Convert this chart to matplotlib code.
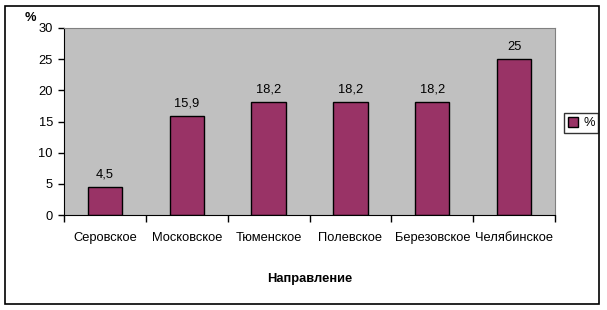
import numpy as np
import matplotlib.pyplot as plt
from matplotlib.patches import Rectangle

plt.rcParams['font.family'] = ['Liberation Sans', 'DejaVu Sans']

categories = ['Серовское', 'Московское', 'Тюменское', 'Полевское', 'Березовское', 'Челябинское']
values = [4.5, 15.9, 18.2, 18.2, 18.2, 25]
labels = ['4,5', '15,9', '18,2', '18,2', '18,2', '25']
yticks = [0, 5, 10, 15, 20, 25, 30]

W, H = 607, 310
fs = 9.3
fig = plt.figure(figsize=(W / 100, H / 100), dpi=100)
fig.patch.set_facecolor('white')

# outer chart border
fig.add_artist(Rectangle((5 / W, 6 / H), 594 / W, 298 / H, transform=fig.transFigure,
                         fill=False, edgecolor='black', linewidth=1.2))

ax = fig.add_axes([64 / W, 1 - 215 / H, (555 - 64) / W, (215 - 28) / H])
ax.set_facecolor('#c0c0c0')
x = np.arange(len(categories))
bars = ax.bar(x, values, width=0.42, color='#993366', edgecolor='black', linewidth=1,
              label='%')
for xi, v, lab in zip(x, values, labels):
    ax.text(xi, v + 1.0, lab, ha='center', va='bottom', fontsize=fs)

ax.set_xlim(-0.5, len(categories) - 0.5)
ax.set_ylim(0, 30)
ax.set_yticks(yticks)
ax.set_yticklabels([str(t) for t in yticks], fontsize=fs)
ax.set_xticks(np.arange(len(categories) + 1) - 0.5)
ax.set_xticklabels([])
ax.set_xticks(x, minor=True)
ax.set_xticklabels(categories, minor=True, fontsize=fs)
ax.tick_params(axis='x', which='minor', length=0, pad=12)
ax.tick_params(axis='x', which='major', direction='out', length=5, width=1)
ax.tick_params(axis='y', direction='out', length=4, width=1, pad=4)
for s in ['top', 'right']:
    ax.spines[s].set_color('#808080')
for s in ['left', 'bottom']:
    ax.spines[s].set_color('black')

ax.set_xlabel('Направление', fontsize=fs, fontweight='bold', labelpad=21)
fig.text(30 / W, 1 - 18 / H, '%', fontsize=fs, fontweight='bold', ha='center', va='center')

leg = fig.legend(handles=[bars], labels=['%'], loc='center', bbox_to_anchor=(581 / W, 1 - 123 / H),
                 fontsize=fs, frameon=True, fancybox=False, handlelength=0.8, handleheight=0.8,
                 handletextpad=0.4, borderpad=0.3, borderaxespad=0)
leg.get_frame().set_edgecolor('black')
leg.get_frame().set_linewidth(1)

fig.savefig('out.png', dpi=100)
